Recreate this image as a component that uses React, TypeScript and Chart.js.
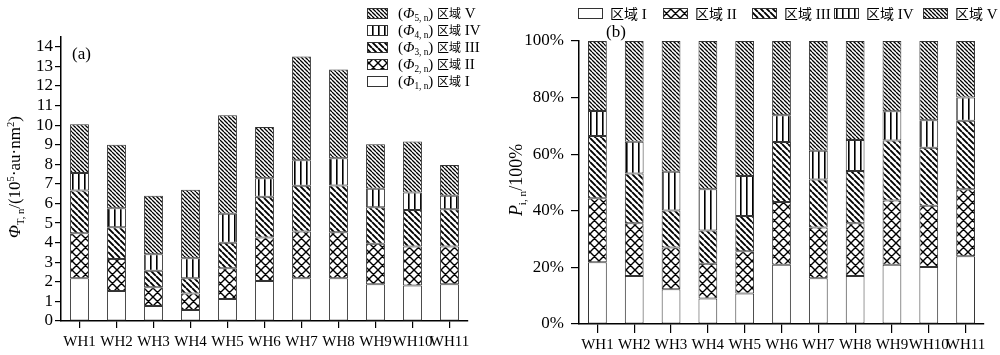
import React, { useEffect, useRef } from 'react';
import { Chart, registerables } from 'chart.js';

Chart.register(...registerables);

// ---------- data ----------
const categories = ['WH1', 'WH2', 'WH3', 'WH4', 'WH5', 'WH6', 'WH7', 'WH8', 'WH9', 'WH10', 'WH11'];

// (a) absolute values, 10^5 au·nm^2
const phi1 = [2.18, 1.53, 0.77, 0.56, 1.12, 2.04, 2.18, 2.18, 1.87, 1.81, 1.87];
const phi2 = [2.30, 1.64, 0.95, 0.85, 1.57, 2.22, 2.39, 2.35, 2.07, 1.99, 1.93];
const phi3 = [2.18, 1.62, 0.85, 0.77, 1.31, 2.09, 2.33, 2.39, 1.87, 1.87, 1.91];
const phi4 = [0.89, 0.97, 0.84, 1.02, 1.47, 0.94, 1.31, 1.39, 0.94, 0.89, 0.68];
const phi5 = [2.50, 3.24, 2.99, 3.50, 5.04, 2.62, 5.30, 4.53, 2.28, 2.60, 1.58];

// (b) percentages
const p1 = [21.8, 17.0, 12.3, 9.0, 10.8, 20.9, 16.2, 17.0, 20.9, 20.1, 23.9];
const p2 = [22.6, 18.6, 14.7, 12.3, 14.9, 22.2, 17.9, 18.6, 22.7, 21.7, 23.7];
const p3 = [22.0, 17.6, 13.1, 11.7, 12.5, 21.2, 17.0, 18.5, 21.2, 20.5, 24.2];
const p4 = [8.9, 11.2, 13.7, 14.6, 14.1, 9.5, 10.1, 10.9, 10.4, 9.7, 8.2];
const p5 = [24.7, 35.6, 46.2, 52.4, 47.7, 26.2, 38.8, 35.0, 24.8, 28.0, 20.0];

const leftTickValues = [0, 1, 2, 3, 4, 5, 6, 7, 8, 9, 10, 11, 12, 13, 14];
const rightTickValues = [0, 20, 40, 60, 80, 100];

const regionNames = ['I', 'II', 'III', 'IV', 'V'];

// ---------- patterns ----------
type Kind = 'none' | 'cross' | 'diag' | 'dense' | 'vert';
const kinds: Kind[] = ['none', 'cross', 'diag', 'vert', 'dense'];

function makePattern(kind: Kind): CanvasPattern | string {
  if (kind === 'none') return '#ffffff';
  const c = document.createElement('canvas');
  let w = 6, h = 6;
  if (kind === 'cross') { w = 9; h = 9; }
  if (kind === 'diag') { w = 6; h = 6; }
  if (kind === 'dense') { w = 4; h = 4; }
  if (kind === 'vert') { w = 6; h = 4; }
  c.width = w; c.height = h;
  const ctx = c.getContext('2d')!;
  ctx.fillStyle = '#ffffff';
  ctx.fillRect(0, 0, w, h);
  ctx.strokeStyle = '#000';
  ctx.fillStyle = '#000';
  if (kind === 'vert') {
    ctx.fillRect(0, 0, 1.6, h);
  } else {
    ctx.lineWidth = kind === 'diag' ? 1.9 : kind === 'dense' ? 1.3 : 1.4;
    ctx.beginPath();
    for (let k = -1; k <= 1; k++) {
      ctx.moveTo(k * w, 0);
      ctx.lineTo(k * w + w, h);
      if (kind === 'cross') {
        ctx.moveTo(k * w, h);
        ctx.lineTo(k * w + w, 0);
      }
    }
    ctx.stroke();
  }
  return ctx.createPattern(c, 'repeat')!;
}

// ---------- rich text ----------
type Piece = { t: string; it?: boolean; sub?: boolean; sup?: boolean; cjk?: boolean };
const SERIF = '"Liberation Serif", "Noto Sans CJK SC", serif';
const CJK = '"Noto Sans CJK SC", sans-serif';

function pieceFont(p: Piece, size: number, cjkSize: number) {
  if (p.cjk) return `${cjkSize}px ${CJK}`;
  const sz = p.sub || p.sup ? size * 0.62 : size;
  return `${p.it ? 'italic ' : ''}${sz}px ${SERIF}`;
}
function measureRich(ctx: CanvasRenderingContext2D, pieces: Piece[], size: number, cjkSize: number) {
  let w = 0;
  for (const p of pieces) {
    ctx.font = pieceFont(p, size, cjkSize);
    w += ctx.measureText(p.t).width;
  }
  return w;
}
function drawRich(ctx: CanvasRenderingContext2D, pieces: Piece[], x: number, y: number, size: number, cjkSize: number) {
  let cx = x;
  ctx.textBaseline = 'alphabetic';
  ctx.textAlign = 'left';
  for (const p of pieces) {
    ctx.font = pieceFont(p, size, cjkSize);
    const dy = p.sub ? size * 0.22 : p.sup ? -size * 0.38 : 0;
    ctx.fillText(p.t, cx, y + dy);
    cx += ctx.measureText(p.t).width;
  }
}

function buildDatasets(series: number[][], patterns: (CanvasPattern | string)[]) {
  return series.map((d, i) => ({
    label: regionNames[i],
    data: d,
    backgroundColor: patterns[i],
    borderColor: '#333',
    borderWidth: 1,
    borderSkipped: false as const,
    categoryPercentage: 1,
    barPercentage: 0.51,
    stack: 's',
  }));
}

function axisCommon(tickLength: number) {
  return {
    grid: { display: true, drawOnChartArea: false, drawTicks: true, tickLength, color: '#000', lineWidth: 1.2, offset: false },
    border: { display: true, color: '#000', width: 1.5 },
  };
}

export default function App() {
  const leftRef = useRef<HTMLCanvasElement>(null);
  const rightRef = useRef<HTMLCanvasElement>(null);

  useEffect(() => {
    const patterns = kinds.map(makePattern);

    const leftPlugin = {
      id: 'leftDecor',
      afterDraw(chart: any) {
        const ctx: CanvasRenderingContext2D = chart.ctx;
        ctx.save();
        ctx.fillStyle = '#000';
        ctx.font = `17px ${SERIF}`;
        ctx.textBaseline = 'alphabetic';
        ctx.fillText('(a)', 72, 59);
        const order = [4, 3, 2, 1, 0];
        const rowsY = [13, 30, 47, 64, 81];
        order.forEach((si, r) => {
          const cy = rowsY[r];
          ctx.fillStyle = patterns[si] as any;
          ctx.fillRect(367, cy - 5, 20, 10);
          ctx.strokeStyle = '#333';
          ctx.lineWidth = 1;
          ctx.strokeRect(367.5, cy - 4.5, 20, 10);
          ctx.fillStyle = '#000';
          const pieces: Piece[] = [
            { t: '(' },
            { t: 'Φ', it: true },
            { t: `${si + 1}, n`, sub: true },
            { t: ') ' },
            { t: '区域', cjk: true },
            { t: ' ' + regionNames[si] },
          ];
          drawRich(ctx, pieces, 398, cy + 5, 15, 12);
        });
        const title: Piece[] = [
          { t: 'Φ', it: true },
          { t: 'T, n', sub: true },
          { t: '/(10' },
          { t: '5', sup: true },
          { t: '·au·nm' },
          { t: '2', sup: true },
          { t: ')' },
        ];
        ctx.translate(20, 177);
        ctx.rotate(-Math.PI / 2);
        const w = measureRich(ctx, title, 17, 13);
        drawRich(ctx, title, -w / 2, 0, 17, 13);
        ctx.restore();
      },
    };

    const rightPlugin = {
      id: 'rightDecor',
      afterDraw(chart: any) {
        const ctx: CanvasRenderingContext2D = chart.ctx;
        ctx.save();
        ctx.fillStyle = '#000';
        ctx.font = `17px ${SERIF}`;
        ctx.textBaseline = 'alphabetic';
        ctx.fillText('(b)', 106, 37);
        const boxX = [78, 163, 252, 334, 423];
        [0, 1, 2, 3, 4].forEach((si) => {
          const x = boxX[si];
          ctx.fillStyle = patterns[si] as any;
          ctx.fillRect(x, 8, 24, 10);
          ctx.strokeStyle = '#333';
          ctx.lineWidth = 1;
          ctx.strokeRect(x + 0.5, 8.5, 24, 10);
          ctx.fillStyle = '#000';
          drawRich(ctx, [{ t: '区域', cjk: true }, { t: ' ' + regionNames[si] }], x + 32, 19, 15, 14);
        });
        const title: Piece[] = [
          { t: 'P', it: true },
          { t: 'i, n', sub: true },
          { t: '/100%' },
        ];
        ctx.translate(22, 180);
        ctx.rotate(-Math.PI / 2);
        const w = measureRich(ctx, title, 18, 14);
        drawRich(ctx, title, -w / 2, 0, 18, 14);
        ctx.restore();
      },
    };

    const left = new Chart(leftRef.current!, {
      type: 'bar',
      data: { labels: categories, datasets: buildDatasets([phi1, phi2, phi3, phi4, phi5], patterns) as any },
      options: {
        responsive: false,
        animation: false,
        layout: { padding: { left: 0, right: 32, top: 37, bottom: 0 } },
        plugins: { legend: { display: false }, tooltip: { enabled: false } },
        scales: {
          x: {
            stacked: true,
            offset: true,
            ...axisCommon(7),
            ticks: { color: '#000', font: { family: SERIF, size: 15 }, padding: 5, maxRotation: 0, autoSkip: false },
            afterFit: (s: any) => { s.height = 34; },
          } as any,
          y: {
            stacked: true,
            min: 0,
            max: 14.5,
            ...axisCommon(6),
            ticks: { color: '#000', font: { family: SERIF, size: 17 }, padding: 2, stepSize: 1, autoSkip: false },
            afterBuildTicks: (s: any) => { s.ticks = leftTickValues.map((v) => ({ value: v })); },
            afterFit: (s: any) => { s.width = 61; },
          } as any,
        },
      },
      plugins: [leftPlugin],
    });

    const right = new Chart(rightRef.current!, {
      type: 'bar',
      data: { labels: categories, datasets: buildDatasets([p1, p2, p3, p4, p5], patterns) as any },
      options: {
        responsive: false,
        animation: false,
        layout: { padding: { left: 0, right: 16, top: 41, bottom: 0 } },
        plugins: { legend: { display: false }, tooltip: { enabled: false } },
        scales: {
          x: {
            stacked: true,
            offset: true,
            ...axisCommon(9),
            ticks: { color: '#000', font: { family: SERIF, size: 15 }, padding: 3, maxRotation: 0, autoSkip: false },
            afterFit: (s: any) => { s.height = 31; },
          } as any,
          y: {
            stacked: true,
            min: 0,
            max: 100,
            ...axisCommon(8),
            ticks: { color: '#000', font: { family: SERIF, size: 17 }, padding: 7, stepSize: 20, autoSkip: false, callback: (v: any) => `${v}%` },
            afterBuildTicks: (s: any) => { s.ticks = rightTickValues.map((v) => ({ value: v })); },
            afterFit: (s: any) => { s.width = 79; },
          } as any,
        },
      },
      plugins: [rightPlugin],
    });

    return () => {
      left.destroy();
      right.destroy();
    };
  }, []);

  return (
    <div style={{ position: 'absolute', left: 0, top: 0, width: 1000, height: 355, background: '#fff' }}>
      <canvas ref={leftRef} width={500} height={355} style={{ position: 'absolute', left: 0, top: 0, width: 500, height: 355 }} />
      <canvas ref={rightRef} width={500} height={355} style={{ position: 'absolute', left: 500, top: 0, width: 500, height: 355 }} />
    </div>
  );
}
